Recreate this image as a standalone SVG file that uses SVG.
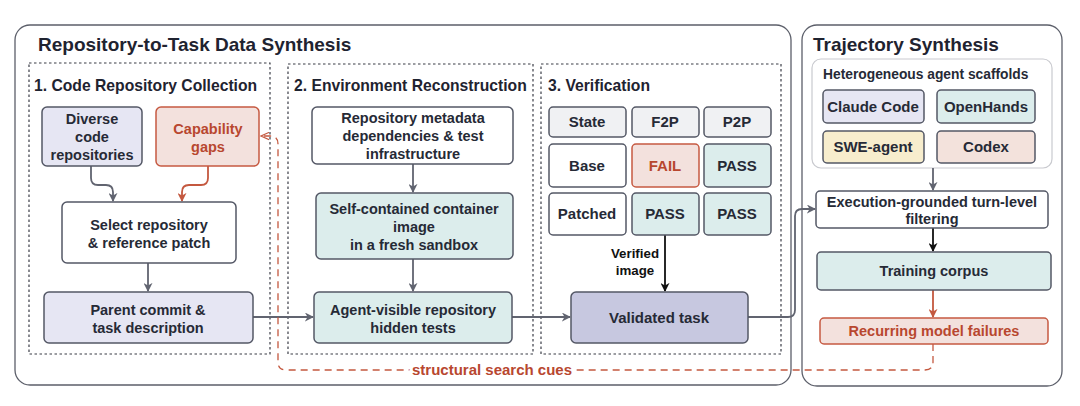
<svg xmlns="http://www.w3.org/2000/svg" width="1080" height="406" viewBox="0 0 1080 406">
<defs>
<style>
text{font-family:"Liberation Sans",Arial,Helvetica,sans-serif;font-weight:bold;fill:#262a36}
.title{font-size:19px;fill:#1f2330}
.sec{font-size:15.7px;fill:#1f2330}
.t{font-size:14.5px;text-anchor:middle}
.b{font-size:15px}
.red{fill:#b8472f}
.outer{fill:#fff;stroke:#5c5f6a;stroke-width:1.3}
.dot{fill:none;stroke:#3a3d46;stroke-width:1.2;stroke-dasharray:2.5 2.5}
.n{stroke:#545866;stroke-width:1.5}
.w{fill:#fff}
.lav{fill:#e6e6f3}
.teal{fill:#dcedec}
.rd{fill:#f3e1dd;stroke:#c65a42}
.gry{fill:#f0f1f3}
.val{fill:#c7c8e0}
.yel{fill:#f7edcd}
.pink{fill:#f3e2dc}
.e{fill:none;stroke:#616470;stroke-width:1.8}
.eb{fill:none;stroke:#111;stroke-width:1.8}
.er{fill:none;stroke:#c4583f;stroke-width:1.8}
.ed{fill:none;stroke:#c4583f;stroke-width:1.3;stroke-dasharray:7 5}
</style>
<marker id="ag" viewBox="0 0 10 10" refX="9" refY="5" markerWidth="9" markerHeight="9" markerUnits="userSpaceOnUse" orient="auto"><path d="M0 0 L10 5 L0 10 L3 5 Z" fill="#616470"/></marker>
<marker id="ab" viewBox="0 0 10 10" refX="9" refY="5" markerWidth="9" markerHeight="9" markerUnits="userSpaceOnUse" orient="auto"><path d="M0 0 L10 5 L0 10 L3 5 Z" fill="#111"/></marker>
<marker id="ar" viewBox="0 0 10 10" refX="9" refY="5" markerWidth="9" markerHeight="9" markerUnits="userSpaceOnUse" orient="auto"><path d="M0 0 L10 5 L0 10 L3 5 Z" fill="#c4583f"/></marker>
<marker id="ao" viewBox="0 0 10 10" refX="9" refY="5" markerWidth="9" markerHeight="9" markerUnits="userSpaceOnUse" orient="auto"><path d="M0 1 L9 5 L0 9" fill="none" stroke="#c4583f" stroke-width="1.3"/></marker>
</defs>

<g id="frames">
<rect class="outer" x="15" y="25" width="776" height="360" rx="15"/>
<text class="title" x="38" y="51">Repository-to-Task Data Synthesis</text>
<rect class="outer" x="802" y="25" width="260" height="361" rx="15"/>
<text class="title" x="813" y="51">Trajectory Synthesis</text>
<rect class="dot" x="29" y="63" width="241" height="291"/>
<text class="sec" x="34" y="91">1. Code Repository Collection</text>
<rect class="dot" x="288" y="64" width="245" height="290"/>
<text class="sec" x="294" y="91">2. Environment Reconstruction</text>
<rect class="dot" x="541" y="64" width="240" height="290"/>
<text class="sec" x="548" y="91">3. Verification</text>
<rect x="812" y="59" width="240" height="109" rx="9" fill="#fff" stroke="#c9cacf" stroke-width="1.2"/>
<text x="823" y="79" style="font-size:13.8px">Heterogeneous agent scaffolds</text>
</g>

<g id="connectors">
<path class="e" d="M91 166 V178 Q91 185 98 185 H106 Q113 185 113 192 V201" marker-end="url(#ag)"/>
<path class="er" d="M208 166 V178 Q208 185 201 185 H189 Q182 185 182 192 V201" marker-end="url(#ar)"/>
<path class="e" d="M148 263 V291" marker-end="url(#ag)"/>
<path class="e" d="M253 317 H313" marker-end="url(#ag)"/>
<path class="e" d="M413 164 V192" marker-end="url(#ag)"/>
<path class="e" d="M413 259 V291" marker-end="url(#ag)"/>
<path class="e" d="M512 317 H570" marker-end="url(#ag)"/>
<path class="eb" d="M665 235 V291" marker-end="url(#ab)"/>
<path class="e" d="M748 317 H788 Q795 317 795 310 V216 Q795 209 802 209 H815" marker-end="url(#ag)"/>
<path class="e" d="M933 168 V190" marker-end="url(#ag)"/>
<path class="eb" d="M933 228 V251" marker-end="url(#ab)"/>
<path class="er" d="M933 290 V317" marker-end="url(#ar)"/>
<path class="ed" d="M933 344 V362 Q933 370 925 370 H286 Q278 370 278 362 V144 Q278 136 270 136 H261" marker-end="url(#ao)"/>
<text x="635" y="258" style="font-size:13.3px;text-anchor:middle;fill:#111">Verified</text>
<text x="635" y="275" style="font-size:13.3px;text-anchor:middle;fill:#111">image</text>
<text x="492" y="375" class="red" style="font-size:15px;text-anchor:middle;stroke:#fff;stroke-width:6;paint-order:stroke">structural search cues</text>
</g>

<g id="diverse"><rect class="n lav" x="42" y="107" width="100" height="59" rx="5"/>
<text class="t" x="92" y="124">Diverse</text><text class="t" x="92" y="142">code</text><text class="t" x="92" y="160">repositories</text></g>
<g id="capability"><rect class="n rd" x="156" y="107" width="103" height="59" rx="5"/>
<text class="t red" x="208" y="134">Capability</text><text class="t red" x="208" y="152">gaps</text></g>
<g id="select"><rect class="n w" x="62" y="202" width="174" height="61" rx="5"/>
<text class="t" x="149" y="230">Select repository</text><text class="t" x="149" y="248">&amp; reference patch</text></g>
<g id="parent"><rect class="n lav" x="44" y="292" width="209" height="51" rx="5"/>
<text class="t" x="148" y="315">Parent commit &amp;</text><text class="t" x="148" y="333">task description</text></g>

<g id="metadata"><rect class="n w" x="312" y="107" width="201" height="57" rx="5"/>
<text class="t" x="413" y="123">Repository metadata</text><text class="t" x="413" y="141">dependencies &amp; test</text><text class="t" x="413" y="159">infrastructure</text></g>
<g id="container"><rect class="n teal" x="316" y="193" width="197" height="66" rx="5"/>
<text class="t" x="414" y="214">Self-contained container</text><text class="t" x="414" y="232">image</text><text class="t" x="414" y="250">in a fresh sandbox</text></g>
<g id="agentvisible"><rect class="n teal" x="314" y="292" width="198" height="51" rx="5"/>
<text class="t" x="413" y="315">Agent-visible repository</text><text class="t" x="413" y="333">hidden tests</text></g>

<g id="table">
<rect class="n gry" x="549" y="107" width="77" height="30" rx="4"/><text class="t b" x="587" y="127">State</text>
<rect class="n gry" x="632" y="107" width="67" height="30" rx="4"/><text class="t b" x="665" y="127">F2P</text>
<rect class="n gry" x="704" y="107" width="67" height="30" rx="4"/><text class="t b" x="737" y="127">P2P</text>
<rect class="n w" x="549" y="144" width="77" height="43" rx="4"/><text class="t b" x="587" y="171">Base</text>
<rect class="n rd" x="632" y="144" width="67" height="43" rx="4"/><text class="t b red" x="665" y="171">FAIL</text>
<rect class="n teal" x="704" y="144" width="67" height="43" rx="4"/><text class="t b" x="737" y="171">PASS</text>
<rect class="n w" x="549" y="193" width="77" height="42" rx="4"/><text class="t b" x="587" y="219">Patched</text>
<rect class="n teal" x="632" y="193" width="67" height="42" rx="4"/><text class="t b" x="665" y="219">PASS</text>
<rect class="n teal" x="704" y="193" width="67" height="42" rx="4"/><text class="t b" x="737" y="219">PASS</text>
</g>
<g id="validated"><rect class="n val" x="571" y="292" width="177" height="51" rx="5"/>
<text class="t b" x="659" y="323">Validated task</text></g>

<g id="claude"><rect class="n lav" x="823" y="90" width="101" height="33" rx="4"/><text class="t b" x="873" y="112">Claude Code</text></g>
<g id="openhands"><rect class="n teal" x="937" y="90" width="98" height="33" rx="4"/><text class="t b" x="986" y="112">OpenHands</text></g>
<g id="sweagent"><rect class="n yel" x="823" y="131" width="101" height="32" rx="4"/><text class="t b" x="873" y="152">SWE-agent</text></g>
<g id="codex"><rect class="n pink" x="937" y="131" width="98" height="32" rx="4"/><text class="t b" x="986" y="152">Codex</text></g>
<g id="execution"><rect class="n w" x="816" y="191" width="232" height="37" rx="4"/>
<text class="t" x="932" y="207">Execution-grounded turn-level</text><text class="t" x="932" y="224">filtering</text></g>
<g id="training"><rect class="n teal" x="817" y="252" width="234" height="38" rx="4"/><text class="t" x="934" y="276">Training corpus</text></g>
<g id="recurring"><rect class="n rd" x="820" y="318" width="228" height="26" rx="4"/><text class="t red" x="934" y="336">Recurring model failures</text></g>
</svg>
